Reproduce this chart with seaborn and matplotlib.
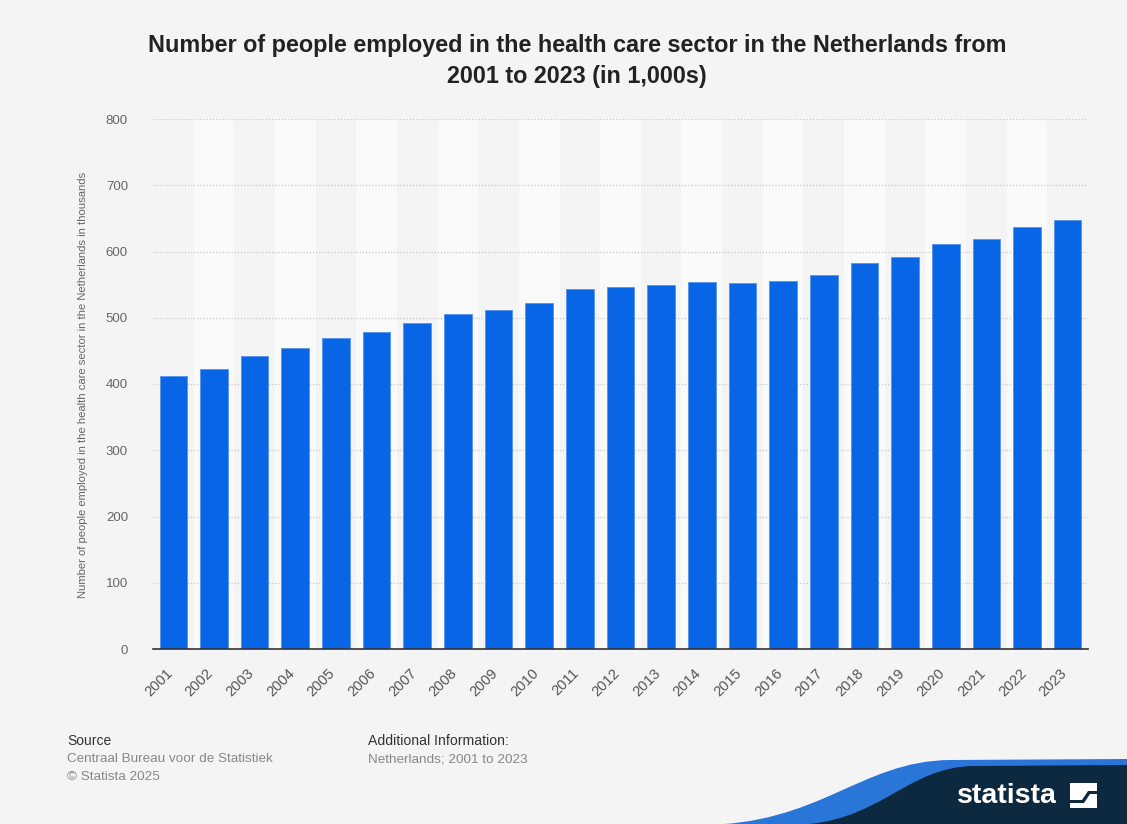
import matplotlib
matplotlib.use("Agg")
import matplotlib.pyplot as plt
import seaborn as sns
import pandas as pd
from matplotlib.patches import PathPatch, Rectangle, Polygon
from matplotlib.path import Path
from matplotlib.transforms import ScaledTranslation

years = [str(y) for y in range(2001, 2024)]
employed = [412, 423, 443, 454, 469, 478, 492, 505, 512, 523, 543, 547, 550,
            554, 552, 556, 565, 583, 592, 612, 619, 637, 648]
y_ticks = [0, 100, 200, 300, 400, 500, 600, 700, 800]

title = ("Number of people employed in the health care sector in the Netherlands from\n"
         "2001 to 2023 (in 1,000s)")
y_label = "Number of people employed in the health care sector in the Netherlands in thousands"

sns.set_theme(style="white")
plt.rcParams['font.family'] = ['Liberation Sans', 'DejaVu Sans']

W, H = 1127, 824
fig = plt.figure(figsize=(W / 100, H / 100), dpi=100)
bg = "#f4f4f4"
fig.patch.set_facecolor(bg)

def fx(x):
    return x / W

def fy(y):
    return 1 - y / H

ax = fig.add_axes([fx(153), fy(649), fx(1088) - fx(153), fy(119) - fy(649)])
ax.set_facecolor(bg)

df = pd.DataFrame({"year": years, "employed": employed})
for i in range(len(years)):
    if i % 2 == 1:
        ax.axvspan(i - 0.5, i + 0.5, color="#fafafa", zorder=0, lw=0)

sns.barplot(data=df, x="year", y="employed", color="#0866e6", saturation=1,
            width=0.68, ax=ax, zorder=3, edgecolor="#5b96ee", linewidth=0.7)

ax.set_xlim(-0.5, len(years) - 0.5)
ax.set_ylim(0, 800)
ax.set_yticks(y_ticks)
ax.set_yticklabels([str(t) for t in y_ticks], color="#666666", fontsize=9.5)
for t in y_ticks[1:]:
    ax.axhline(t, color="#c8c8c8", lw=0.9, ls=(0, (1, 1.5)), zorder=1)

ax.tick_params(axis="x", labelrotation=45, labelsize=10.5, labelcolor="#555555",
               length=0, pad=16)
ax.tick_params(axis="y", length=0, pad=18)
shift = ScaledTranslation(-3 / 100, 0, fig.dpi_scale_trans)
for lbl in ax.get_xticklabels():
    lbl.set_ha("right")
    lbl.set_rotation_mode("anchor")
    lbl.set_va("center")
    lbl.set_transform(lbl.get_transform() + shift)

for s in ["top", "right", "left"]:
    ax.spines[s].set_visible(False)
ax.spines["bottom"].set_color("#333333")
ax.spines["bottom"].set_linewidth(1.2)
ax.spines["bottom"].set_zorder(5)
ax.set_xlabel("")
ax.set_ylabel("")

fig.text(fx(83), fy(385), y_label, rotation=90, ha="center", va="center",
         color="#666666", fontsize=8.1)

fig.text(fx(577), fy(61), title, ha="center", va="center", fontsize=16.8,
         fontweight="bold", color="#222222", linespacing=1.45)

# footer
fig.text(fx(67), fy(741), "Source", fontsize=10, color="#333333", va="center")
fig.text(fx(67), fy(759), "Centraal Bureau voor de Statistiek", fontsize=9.7,
         color="#888888", va="center")
fig.text(fx(67), fy(777), "\u00a9 Statista 2025", fontsize=9.7, color="#888888", va="center")
fig.text(fx(368), fy(741), "Additional Information:", fontsize=10.1, color="#333333", va="center")
fig.text(fx(368), fy(759), "Netherlands; 2001 to 2023", fontsize=9.7, color="#888888", va="center")

# logo shapes
def curve_patch(pts_px, color, z):
    verts = [(fx(x), fy(y)) for x, y in pts_px]
    codes = [Path.MOVETO, Path.CURVE4, Path.CURVE4, Path.CURVE4,
             Path.LINETO, Path.LINETO, Path.CLOSEPOLY]
    p = PathPatch(Path(verts, codes), facecolor=color, edgecolor="none",
                  transform=fig.transFigure, zorder=z)
    fig.patches.append(p)

curve_patch([(700, 825), (820, 825), (860, 761), (950, 760), (1128, 759),
             (1128, 825), (700, 825)], "#2a75d8", 1)
curve_patch([(790, 825), (880, 825), (905, 766), (975, 766), (1128, 765),
             (1128, 825), (790, 825)], "#0c2940", 2)

fig.text(fx(957), fy(796), "statista", fontsize=20.5, fontweight="bold",
         color="white", va="center", ha="left", zorder=5)
fig.patches.append(Rectangle((fx(1070), fy(808)), fx(27), fy(783) - fy(808),
                             facecolor="white", edgecolor="none",
                             transform=fig.transFigure, zorder=5))
fig.patches.append(Polygon([(fx(1070), fy(800)), (fx(1082), fy(800)), (fx(1088), fy(791)),
                            (fx(1097), fy(791)), (fx(1097), fy(794)), (fx(1090), fy(794)),
                            (fx(1084), fy(803)), (fx(1070), fy(803))],
                           closed=True, facecolor="#0c2940", edgecolor="none",
                           transform=fig.transFigure, zorder=6))

fig.savefig("out.png", dpi=100, facecolor=fig.get_facecolor())
